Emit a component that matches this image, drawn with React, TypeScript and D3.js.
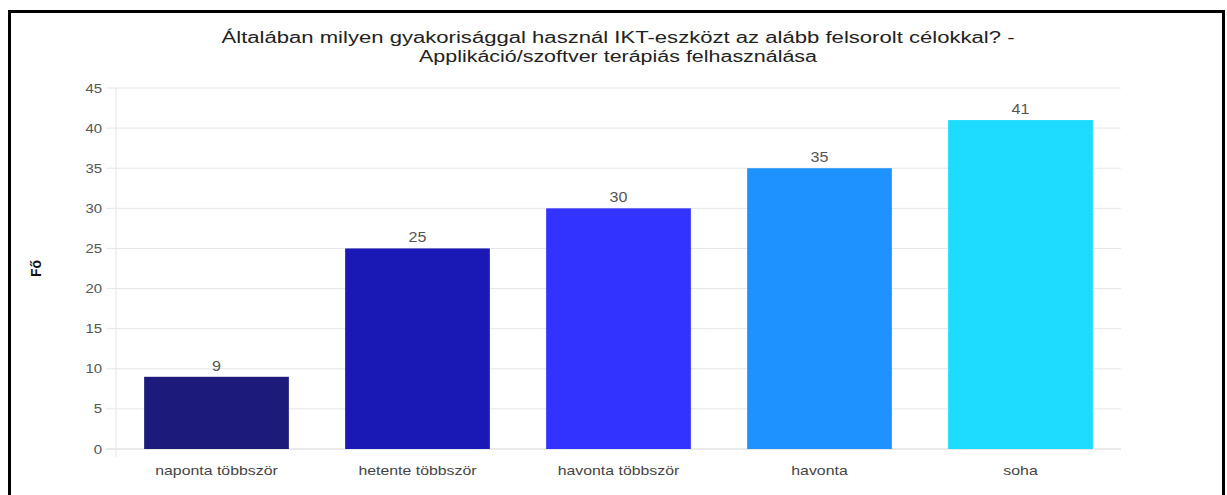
import React from "react";
import * as d3 from "d3";

const categories = ["naponta többször", "hetente többször", "havonta többször", "havonta", "soha"];
const values = [9, 25, 30, 35, 41];
const colors = ["#1c1a7a", "#1a19b6", "#3333ff", "#1e92ff", "#1ddcff"];
const yTicks = [0, 5, 10, 15, 20, 25, 30, 35, 40, 45];
const titleLines = [
  "Általában milyen gyakorisággal használ IKT-eszközt az alább felsorolt célokkal? -",
  "Applikáció/szoftver terápiás felhasználása",
];
const titleWidths = [793, 398];
const yLabel = "Fő";

export default function App() {
  const W = 1227, H = 495;
  const left = 116, right = 1121, top = 88, bottom = 449;
  const x = d3.scaleBand<string>().domain(categories).range([left, right]).paddingInner(0.28).paddingOuter(0.14);
  const y = d3.scaleLinear().domain([0, 45]).range([bottom, top]);
  const font = "'Liberation Sans', Arial, sans-serif";
  const cx = 618;
  const sx = (px: number, py: number, s: number) => `translate(${px},${py}) scale(${s},1)`;
  return (
    <div style={{ position: "absolute", left: 0, top: 0 }}>
      <svg width={W} height={H} style={{ display: "block" }} fontFamily={font}>
        <rect x={0} y={0} width={W} height={H} fill="#fff" />
        <path d={`M9.5,${H + 5} V11.5 H1223.5 V${H + 5}`} fill="none" stroke="#000" strokeWidth={3} />
        {titleLines.map((t, i) => (
          <text key={i} x={cx} y={43 + i * 19} textAnchor="middle" fontSize={16} fill="#222"
            textLength={titleWidths[i]} lengthAdjust="spacingAndGlyphs">{t}</text>
        ))}
        {yTicks.map((t) => (
          <g key={t}>
            <line x1={left - 10} x2={right} y1={y(t)} y2={y(t)} stroke={t === 0 ? "#d4d4d4" : "#e6e6e6"} strokeWidth={1} />
            <text transform={sx(left - 14, y(t), 1.15)} dy="0.35em" textAnchor="end" fontSize={13} fill="#555">{t}</text>
          </g>
        ))}
        <line x1={left} x2={left} y1={top} y2={bottom + 8} stroke="#e6e6e6" />
        {categories.map((c, i) => (
          <g key={c}>
            <rect x={x(c)!} y={y(values[i])} width={x.bandwidth()} height={bottom - y(values[i])} fill={colors[i]} />
            <text transform={sx(x(c)! + x.bandwidth() / 2, y(values[i]) - 6, 1.15)} textAnchor="middle" fontSize={14} fill="#555">{values[i]}</text>
            <text transform={sx(x(c)! + x.bandwidth() / 2, 475, 1.22)} textAnchor="middle" fontSize={13} fill="#444">{c}</text>
          </g>
        ))}
        <text transform={`translate(41,${(top + bottom) / 2}) rotate(-90)`} textAnchor="middle" fontSize={14} fontWeight="bold" fill="#111">{yLabel}</text>
      </svg>
    </div>
  );
}
